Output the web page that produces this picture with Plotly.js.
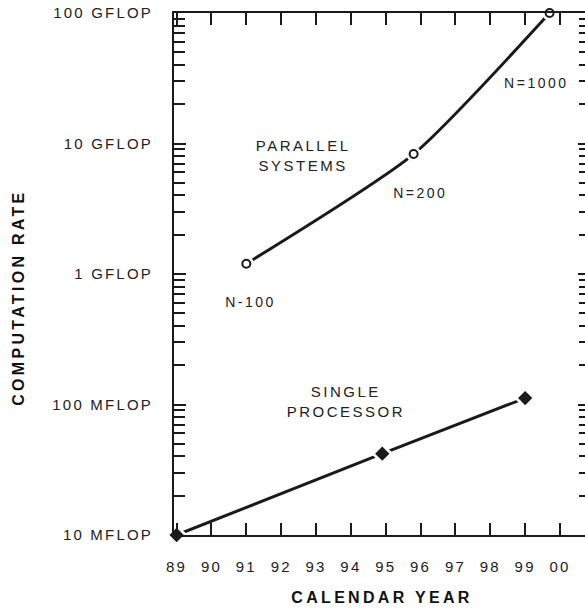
<!DOCTYPE html>
<html>
<head>
<meta charset="utf-8">
<script src="https://cdn.plot.ly/plotly-3.0.1.min.js"></script>
<style>
  html, body { margin: 0; padding: 0; background: #fff; overflow: hidden; }
  #chart { width: 592px; height: 609px; }
  svg text { letter-spacing: 2.2px; }
  svg g.annotation text { letter-spacing: 2.5px; }
  svg text.xtitle, svg g.annotation.ytitle-ann text { letter-spacing: 3.3px; }
</style>
</head>
<body>
<div id="chart"></div>
<script>
// ---- data (computation rate in MFLOP) ----
const parallelYears  = [1991, 1995.8, 1999.7];
const parallelRate   = [1200, 8300, 100000];
const parallelLabels = ["N-100", "N=200", "N=1000"];

const singleYears = [1989, 1994.9, 1999];
const singleRate  = [10, 42, 112];

const yearTicks  = [1989, 1990, 1991, 1992, 1993, 1994, 1995, 1996, 1997, 1998, 1999, 2000];
const yearLabels = ["89", "90", "91", "92", "93", "94", "95", "96", "97", "98", "99", "00"];

const rateTicks  = [10, 100, 1000, 10000, 100000];
const rateLabels = ["10 MFLOP", "100 MFLOP", "1 GFLOP", "10 GFLOP", "100 GFLOP"];

const xTitle = "CALENDAR YEAR";
const yTitle = "COMPUTATION RATE";

// minor log ticks 2..9 within each decade
const minorRate = [];
for (let d = 1; d <= 4; d++) for (let k = 2; k <= 9; k++) minorRate.push(k * Math.pow(10, d));

const FONT = "Liberation Sans, Arial, Helvetica, sans-serif";
const INK = "#1a1a1a";
const TXT = "#222";

const traces = [
  { // parallel line with white gaps around points
    x: parallelYears, y: parallelRate, mode: "lines+markers", type: "scatter",
    line: { color: INK, width: 3, shape: "spline", smoothing: 0.6 },
    marker: { symbol: "circle", size: 15, color: "#fff", line: { width: 0 } },
    cliponaxis: false, hoverinfo: "skip"
  },
  {
    x: parallelYears, y: parallelRate, mode: "markers", type: "scatter",
    marker: { symbol: "circle-open", size: 8, color: INK, line: { width: 2, color: INK } },
    cliponaxis: false
  },
  { // single processor
    x: singleYears, y: singleRate, mode: "lines+markers", type: "scatter",
    line: { color: INK, width: 3 },
    marker: { symbol: "diamond", size: 17, color: "#fff", line: { width: 0 } },
    cliponaxis: false, hoverinfo: "skip"
  },
  {
    x: singleYears, y: singleRate, mode: "markers", type: "scatter",
    marker: { symbol: "diamond", size: 11, color: INK, line: { width: 0 } },
    cliponaxis: false
  }
];

const annotations = [
  { x: 1992.63, y: 3.91, text: "PARALLEL<br>SYSTEMS" },
  { x: 1993.86, y: 2.02, text: "SINGLE<br>PROCESSOR" }
].map(a => Object.assign(a, {
  xref: "x", yref: "y", showarrow: false,
  font: { family: FONT, size: 15, color: TXT }
}));

const shifts = [[4, -38], [7, -39], [-13, -70]];
parallelLabels.forEach((t, i) => {
  annotations.push({
    x: parallelYears[i], y: Math.log10(parallelRate[i]), text: t,
    xref: "x", yref: "y", showarrow: false,
    xshift: shifts[i][0], yshift: shifts[i][1],
    font: { family: FONT, size: 14, color: TXT }
  });
});

// vertical axis title (placed to match the original's offset)
annotations.push({
  text: yTitle, textangle: -90, showarrow: false,
  xref: "paper", yref: "paper", x: -0.3726, y: 0.456,
  xanchor: "center", yanchor: "middle",
  font: { family: FONT, size: 16, color: "#111", weight: "bold" }
});

const layout = {
  width: 592, height: 609,
  margin: { l: 174, r: 2, t: 13, b: 74 },
  paper_bgcolor: "#fff", plot_bgcolor: "#fff",
  showlegend: false,
  font: { family: FONT, color: TXT },
  xaxis: {
    range: [1988.925, 2000.86],
    tickvals: yearTicks, ticktext: yearLabels,
    ticks: "inside", ticklen: 12, tickwidth: 2, tickcolor: INK,
    showline: true, linecolor: INK, linewidth: 2, mirror: "ticks",
    showgrid: false, zeroline: false,
    tickfont: { family: FONT, size: 15, color: TXT },
    ticklabelstandoff: 17,
    automargin: true,
    title: { text: xTitle, font: { family: FONT, size: 16, color: "#111", weight: "bold" }, standoff: 18 }
  },
  yaxis: {
    type: "log", range: [1, 5],
    tickvals: rateTicks, ticktext: rateLabels,
    ticks: "inside", ticklen: 12, tickwidth: 2, tickcolor: INK,
    minor: { tickvals: minorRate, ticks: "inside", ticklen: 11, tickwidth: 2, tickcolor: INK, showgrid: false },
    showline: true, linecolor: INK, linewidth: 2, mirror: "ticks",
    showgrid: false, zeroline: false,
    tickfont: { family: FONT, size: 15, color: TXT },
    ticklabelstandoff: 16,
    automargin: false
  },
  annotations: annotations
};

Plotly.newPlot("chart", traces, layout, { displayModeBar: false, staticPlot: true }).then(() => {
  const anns = document.querySelectorAll("g.annotation");
  if (anns.length) anns[anns.length - 1].classList.add("ytitle-ann");
});
</script>
</body>
</html>
